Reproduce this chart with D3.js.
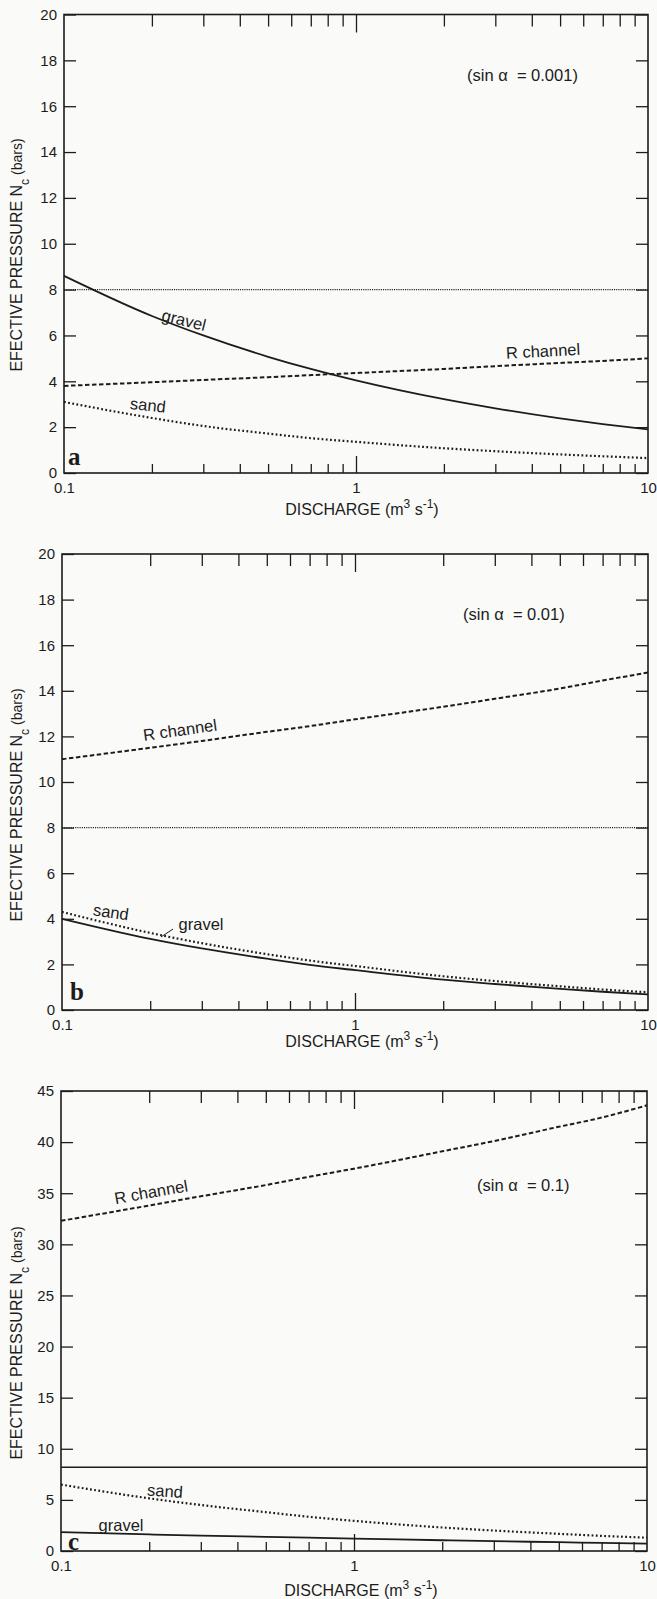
<!DOCTYPE html>
<html><head><meta charset="utf-8">
<script src="https://cdn.jsdelivr.net/npm/d3@7"></script>
<style>
html,body{margin:0;padding:0;background:#fafaf8;}
svg{display:block;}
</style></head><body>
<svg id="chart" width="657" height="1599"></svg>
<script>
// ---- data ----
const discharge = [0.1, 0.2, 0.3, 0.5, 0.7, 1, 2, 3, 5, 7, 10];

const aGravel   = [8.6, 6.85, 6.0, 5.07, 4.54, 4.04, 3.22, 2.82, 2.38, 2.13, 1.9];
const aRchannel = [3.8, 3.96, 4.06, 4.18, 4.27, 4.36, 4.54, 4.66, 4.8, 4.89, 5.0];
const aSand     = [3.1, 2.4, 2.05, 1.72, 1.52, 1.36, 1.08, 0.95, 0.81, 0.73, 0.65];
const aLimit    = 8;

const bRchannel = [11.0, 11.5, 11.8, 12.2, 12.45, 12.75, 13.3, 13.65, 14.1, 14.45, 14.8];
const bSand     = [4.3, 3.38, 2.93, 2.45, 2.17, 1.93, 1.48, 1.27, 1.04, 0.9, 0.78];
const bGravel   = [4.0, 3.12, 2.7, 2.25, 1.98, 1.75, 1.33, 1.14, 0.93, 0.8, 0.68];
const bLimit    = 8;

const cRchannel = [32.3, 33.8, 34.7, 35.8, 36.6, 37.4, 39.1, 40.1, 41.5, 42.4, 43.6];
const cSand     = [6.5, 5.15, 4.5, 3.8, 3.35, 2.95, 2.3, 2.0, 1.68, 1.48, 1.3];
const cGravel   = [1.85, 1.62, 1.5, 1.38, 1.3, 1.22, 1.05, 0.96, 0.86, 0.79, 0.72];
const cLimit    = 8.2;

const xMinorTicks = [0.2,0.3,0.4,0.5,0.6,0.7,0.8,0.9,2,3,4,5,6,7,8,9];
const xMajorTicks = [1];
const xTickLabels = [0.1, 1, 10];
const yTicksAB = [0,2,4,6,8,10,12,14,16,18,20];
const yTicksC  = [0,5,10,15,20,25,30,35,40,45];
const slopeLabels = ["(sin α  = 0.001)", "(sin α  = 0.01)", "(sin α  = 0.1)"];
const panelLetters = ["a", "b", "c"];

// ---- drawing ----
const svg = d3.select("#chart");
const INK = "#1c1c1c";
const FONT = '"Liberation Sans", Arial, Helvetica, sans-serif';

const panels = [
  { left:64, right:648, top:14.5, bottom:473, yMax:20, yTicks:yTicksAB,
    series:{ gravel:aGravel, r:aRchannel, sand:aSand }, limit:aLimit, limitSolid:false,
    sin:{x:467, y:81, t:slopeLabels[0]}, letter:{x:68, y:465, t:panelLetters[0]},
    titleY:255, xTitleY:515, xTitleX:362,
    labels:[ {t:"gravel", x:184, y:320, r:14}, {t:"sand", x:148, y:405, r:6}, {t:"R channel", x:543, y:351, r:-3} ] },
  { left:62, right:648, top:554, bottom:1010, yMax:20, yTicks:yTicksAB,
    series:{ gravel:bGravel, r:bRchannel, sand:bSand }, limit:bLimit, limitSolid:false,
    sin:{x:463, y:620, t:slopeLabels[1]}, letter:{x:70, y:1000, t:panelLetters[1]},
    titleY:805, xTitleY:1047, xTitleX:362,
    labels:[ {t:"R channel", x:180, y:730, r:-8}, {t:"sand", x:111, y:912, r:8}, {t:"gravel", x:201, y:924, r:0} ],
    leader:[161,937,173,929] },
  { left:61, right:647, top:1091, bottom:1551, yMax:45, yTicks:yTicksC,
    series:{ gravel:cGravel, r:cRchannel, sand:cSand }, limit:cLimit, limitSolid:true,
    sin:{x:477, y:1191, t:slopeLabels[2]}, letter:{x:68, y:1550, t:panelLetters[2]},
    titleY:1343, xTitleY:1596, xTitleX:361,
    labels:[ {t:"R channel", x:151, y:1192, r:-10}, {t:"sand", x:165, y:1491, r:4}, {t:"gravel", x:121, y:1525, r:0} ] }
];

function styleAxis(sel, size) {
  sel.attr("font-family", FONT).attr("font-size", size);
  sel.select(".domain").remove();
  sel.selectAll("line").attr("stroke", INK).attr("stroke-width", 1.3);
  sel.selectAll("text").attr("fill", INK);
}

panels.forEach(p => {
  const x = d3.scaleLog().domain([0.1, 10]).range([p.left, p.right]);
  const y = d3.scaleLinear().domain([0, p.yMax]).range([p.bottom, p.top]);
  const g = svg.append("g");

  const line = d3.line().x((d, i) => x(discharge[i])).y(d => y(d)).curve(d3.curveMonotoneX);

  // limit line
  g.append("line")
    .attr("x1", x(0.1)).attr("x2", x(10))
    .attr("y1", y(p.limit)).attr("y2", y(p.limit))
    .attr("stroke", INK).attr("stroke-width", p.limitSolid ? 1.4 : 1.3)
    .attr("stroke-dasharray", p.limitSolid ? null : "1.1,1.1");

  g.append("path").datum(p.series.gravel).attr("d", line)
    .attr("fill", "none").attr("stroke", INK).attr("stroke-width", 1.8);
  g.append("path").datum(p.series.r).attr("d", line)
    .attr("fill", "none").attr("stroke", INK).attr("stroke-width", 2).attr("stroke-dasharray", "4.5,2.5");
  g.append("path").datum(p.series.sand).attr("d", line)
    .attr("fill", "none").attr("stroke", INK).attr("stroke-width", 2.2).attr("stroke-dasharray", "1.8,2.4");

  // axes
  g.append("g").attr("transform", `translate(${p.left},0)`)
    .call(d3.axisLeft(y).tickValues(p.yTicks).tickSizeInner(-12).tickSizeOuter(0).tickPadding(7))
    .call(s => styleAxis(s, 15));
  g.append("g").attr("transform", `translate(${p.right},0)`)
    .call(d3.axisRight(y).tickValues(p.yTicks).tickSizeInner(-12).tickSizeOuter(0).tickFormat(""))
    .call(s => styleAxis(s, 15));
  g.append("g").attr("transform", `translate(0,${p.bottom})`)
    .call(d3.axisBottom(x).tickValues(xMinorTicks).tickSizeInner(-9).tickSizeOuter(0).tickFormat(""))
    .call(s => styleAxis(s, 15));
  g.append("g").attr("transform", `translate(0,${p.bottom})`)
    .call(d3.axisBottom(x).tickValues(xMajorTicks).tickSizeInner(-17).tickSizeOuter(0).tickFormat(""))
    .call(s => styleAxis(s, 15));
  g.append("g").attr("transform", `translate(0,${p.bottom})`)
    .call(d3.axisBottom(x).tickValues(xTickLabels).tickSizeInner(0).tickSizeOuter(0).tickPadding(9).tickFormat(d => String(d)))
    .call(s => styleAxis(s, 15));
  g.append("g").attr("transform", `translate(0,${p.top})`)
    .call(d3.axisTop(x).tickValues(xMinorTicks).tickSizeInner(-12).tickSizeOuter(0).tickFormat(""))
    .call(s => styleAxis(s, 15));
  g.append("g").attr("transform", `translate(0,${p.top})`)
    .call(d3.axisTop(x).tickValues(xMajorTicks).tickSizeInner(-18).tickSizeOuter(0).tickFormat(""))
    .call(s => styleAxis(s, 15));

  // frame
  g.append("rect").attr("x", p.left).attr("y", p.top)
    .attr("width", p.right - p.left).attr("height", p.bottom - p.top)
    .attr("fill", "none").attr("stroke", INK).attr("stroke-width", 1.6);

  // y title
  const yt = g.append("text").attr("transform", `translate(22,${p.titleY}) rotate(-90)`)
    .attr("text-anchor", "middle").attr("font-family", FONT).attr("font-size", 16).attr("fill", INK);
  yt.append("tspan").text("EFECTIVE PRESSURE N");
  yt.append("tspan").attr("baseline-shift", "sub").attr("font-size", 12).text("c");
  yt.append("tspan").attr("font-size", 14).text(" (bars)");

  // x title
  const xt = g.append("text").attr("x", p.xTitleX).attr("y", p.xTitleY)
    .attr("text-anchor", "middle").attr("font-family", FONT).attr("font-size", 16).attr("fill", INK);
  xt.append("tspan").text("DISCHARGE (m");
  xt.append("tspan").attr("baseline-shift", "super").attr("font-size", 12).text("3");
  xt.append("tspan").text(" s");
  xt.append("tspan").attr("baseline-shift", "super").attr("font-size", 12).text("-1");
  xt.append("tspan").text(")");

  // slope annotation
  g.append("text").attr("x", p.sin.x).attr("y", p.sin.y).attr("xml:space", "preserve")
    .attr("font-family", FONT).attr("font-size", 16.5).attr("fill", INK).text(p.sin.t);

  // panel letter
  g.append("text").attr("x", p.letter.x).attr("y", p.letter.y)
    .attr("font-family", '"Liberation Serif", "Times New Roman", serif').attr("font-weight", "bold")
    .attr("font-size", 25).attr("fill", INK).text(p.letter.t);

  // curve labels
  p.labels.forEach(l => {
    g.append("text").attr("transform", `translate(${l.x},${l.y}) rotate(${l.r})`)
      .attr("text-anchor", "middle").attr("dy", "0.35em")
      .attr("font-family", FONT).attr("font-size", 16.5).attr("fill", INK).text(l.t);
  });
  if (p.leader) {
    g.append("line").attr("x1", p.leader[0]).attr("y1", p.leader[1])
      .attr("x2", p.leader[2]).attr("y2", p.leader[3])
      .attr("stroke", INK).attr("stroke-width", 1);
  }
});
</script>
</body></html>
